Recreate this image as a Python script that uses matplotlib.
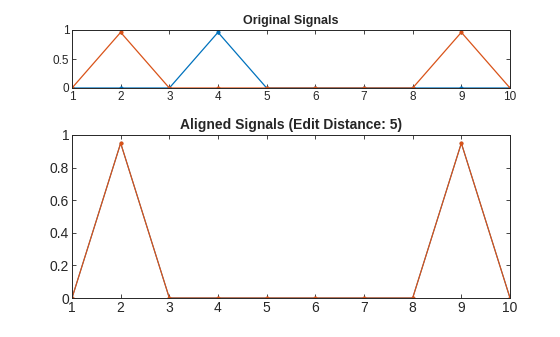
import numpy as np
import matplotlib.pyplot as plt

plt.rcParams['font.family'] = ['Liberation Sans', 'DejaVu Sans']

x = np.arange(1, 11)

# original signals
sig1 = [0, 0, 0, 0.96, 0, 0, 0, 0, 0, 0]
sig2 = [0, 0.96, 0, 0, 0, 0, 0, 0, 0.96, 0]

# aligned signals
aligned1 = [0, 0.95, 0, 0, 0, 0, 0, 0, 0.95, 0]
aligned2 = [0, 0.95, 0, 0, 0, 0, 0, 0, 0.95, 0]

blue = '#0072BD'
orange = '#D95319'
dark = '#262626'

fig = plt.figure(figsize=(5.6, 3.37), dpi=100)
ax1 = fig.add_axes([72/560, 1-88/337, 438/560, 58/337])
ax2 = fig.add_axes([72/560, 1-298/337, 438/560, 163/337])


def style(ax, fs):
    ax.set_xlim(1, 10)
    ax.set_ylim(0, 1)
    ax.set_xticks(x)
    ax.tick_params(direction='in', top=True, right=True, labelsize=fs,
                   colors=dark, length=3, width=0.6, pad=2)
    for s in ax.spines.values():
        s.set_color(dark)
        s.set_linewidth(0.7)


ax1.plot(x, sig1, '.-', color=blue, lw=0.9, ms=4)
ax1.plot(x, sig2, '.-', color=orange, lw=0.9, ms=4)
style(ax1, 8.5)
ax1.set_yticks([0, 0.5, 1])
ax1.set_yticklabels(['0', '0.5', '1'])
ax1.set_title('Original Signals', fontsize=9, fontweight='bold', color=dark, pad=4)

ax2.plot(x, aligned1, '.-', color=blue, lw=0.7, ms=3)
ax2.plot(x, aligned2, '.-', color=orange, lw=0.9, ms=4)
style(ax2, 10)
ax2.set_yticks([0, 0.2, 0.4, 0.6, 0.8, 1])
ax2.set_yticklabels(['0', '0.2', '0.4', '0.6', '0.8', '1'])
ax2.set_title('Aligned Signals (Edit Distance: 5)', fontsize=10, fontweight='bold',
              color=dark, pad=4)

fig.savefig('out.png', dpi=100)
